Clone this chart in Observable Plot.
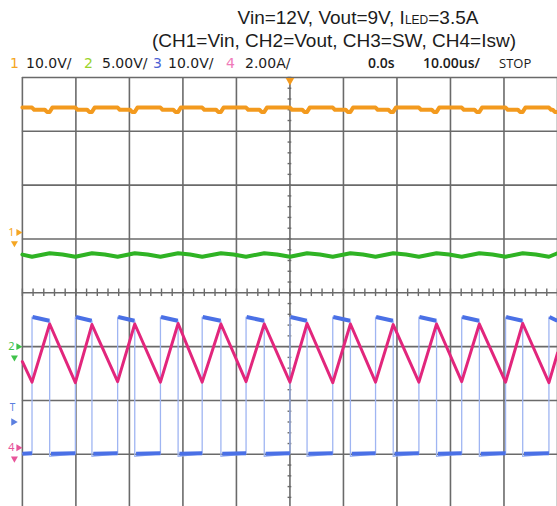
<!DOCTYPE html>
<html><head><meta charset="utf-8">
<script src="https://cdn.jsdelivr.net/npm/d3@7"></script>
<script src="https://cdn.jsdelivr.net/npm/@observablehq/plot@0.6"></script>
<style>
html,body{margin:0;padding:0;background:#fff;overflow:hidden;width:557px;height:506px;}
#wrap{position:relative;width:557px;height:506px;overflow:hidden;}
.t{position:absolute;white-space:nowrap;font-family:"Liberation Sans",Arial,sans-serif;color:#1c1c1c;line-height:1;}
.title{font-size:19px;left:0;text-align:center;}
.hd{font-size:14px;top:56px;font-family:"DejaVu Sans",sans-serif;}
.hd2{font-size:14px;top:56px;font-family:"Open Sans",sans-serif;font-weight:600;}
#chart{position:absolute;left:0;top:70px;}
</style></head>
<body><div id="wrap">
<div class="t title" style="top:8px;width:716px">Vin=12V, Vout=9V, I<span style="font-size:12px">LED</span>=3.5A</div>
<div class="t title" style="top:31px;width:668px">(CH1=Vin, CH2=Vout, CH3=SW, CH4=Isw)</div>
<div id="hdr"></div>
<div id="chart"></div>
</div>
<script>
// ---- header labels ----
const chLabels = ["1", "2", "3", "4"];
const chScales = ["10.0V/", "5.00V/", "10.0V/", "2.00A/"];
const chColors = ["#f5a623", "#9ad32a", "#4b62d6", "#f07ab8"];
const timeLabels = ["0.0s", "10.00us/", "STOP"];

// ---- grid (scope divisions) ----
const timeTicks = [-50, -40, -30, -20, -10, 0, 10, 20, 30, 40, 50];   // us, 10 us/div
const divTicks = [-4, -3, -2, -1, 0, 1, 2, 3, 4];                       // vertical divisions

// ---- waveforms (time in us, level in screen divisions) ----
const swRise = [-48.2, -40.1, -32.2, -24.2, -16.4, -8.2, 0.0, 8.0, 16.0, 24.1, 32.1, 40.3, 48.4];
const swFall = [-44.9, -37.0, -29.0, -20.9, -12.9, -4.8, 3.2, 11.3, 19.3, 27.4, 35.4, 43.5];
const iValley = [-1.66, -1.67, -1.65, -1.66, -1.66, -1.65, -1.66, -1.67, -1.66, -1.66, -1.65, -1.66, -1.67];
const iPeak = [-0.58, -0.59, -0.58, -0.57, -0.58, -0.58, -0.57, -0.58, -0.59, -0.58, -0.58, -0.57];
const iEdge = [-1.28, -1.12];      // inductor current at left / right screen edge
const swHigh = [-0.45, -0.52];     // start / end of SW high level
const swLow = -2.99;
const vinLevels = [3.44, 3.40, 3.36];   // Vin: idle, dip, end-of-on dip
const voutLevels = [0.67, 0.735, 0.71]; // Vout: at SW rise, at SW fall, mid-off

// header
const hdr = document.getElementById("hdr");
const chPos = [[10, 26], [84, 102], [153, 168], [226, 245]];
chLabels.forEach((c, i) => {
  hdr.insertAdjacentHTML("beforeend",
    `<div class="t hd" style="left:${chPos[i][0]}px;color:${chColors[i]}">${c}</div>` +
    `<div class="t hd" style="left:${chPos[i][1]}px">${chScales[i]}</div>`);
});
const tPos = [368, 423, 499];
timeLabels.forEach((s, i) => {
  hdr.insertAdjacentHTML("beforeend",
    `<div class="t hd2" style="left:${tPos[i]}px;${i === 2 ? "font-size:13px;font-weight:500;top:57px" : ""}">${s}</div>`);
});

// build traces
const pink = [{t: -50, v: iEdge[0]}];
swRise.forEach((r, i) => {
  pink.push({t: r, v: iValley[i]});
  if (i < swFall.length) pink.push({t: swFall[i], v: iPeak[i]});
});
pink.push({t: 50, v: iEdge[1]});

const blueThin = [{t: -50, v: swLow}];
const blueHigh = [], blueLow = [];
swRise.forEach((r, i) => {
  blueThin.push({t: r, v: swLow}, {t: r, v: swHigh[0]});
  const f = i < swFall.length ? swFall[i] : 50;
  blueThin.push({t: f, v: swHigh[1]});
  if (i < swFall.length) blueThin.push({t: f, v: swLow - 0.05});
  blueHigh.push({x1: r + 0.1, x2: f - 0.05, y1: swHigh[0], y2: swHigh[1]});
  const prevF = i === 0 ? -50 : swFall[i - 1] + 0.25;
  blueLow.push({x1: prevF, x2: r, y1: swLow, y2: swLow + 0.01});
});

const orange = [{t: -50, v: vinLevels[0]}];
swRise.forEach((r, i) => {
  const f = i < swFall.length ? swFall[i] : 50;
  orange.push({t: r, v: vinLevels[0]}, {t: r + 0.4, v: vinLevels[1]},
              {t: f - 0.9, v: vinLevels[1]}, {t: f - 0.5, v: vinLevels[2]});
  if (i < swFall.length) orange.push({t: f, v: vinLevels[2]}, {t: f + 0.5, v: vinLevels[0]});
  else orange.push({t: 50, v: vinLevels[2]});
});

const green = [{t: -50, v: voutLevels[2]}];
swRise.forEach((r, i) => {
  green.push({t: r, v: voutLevels[0]});
  if (i < swFall.length) {
    green.push({t: swFall[i], v: voutLevels[1]});
    const nr = i + 1 < swRise.length ? swRise[i + 1] : 50;
    green.push({t: (swFall[i] + nr) / 2, v: voutLevels[2]});
  }
});
green.push({t: 50, v: voutLevels[1]});

const minorX = d3.range(-50, 50.01, 2);
const minorY = d3.range(-4, 4.01, 0.2);

const gridColor = "#6a6a6a";
const chart = Plot.plot({
  width: 560, height: 445,
  marginLeft: 22, marginRight: 0, marginTop: 7, marginBottom: 5,
  x: {domain: [-50, 50], axis: null},
  y: {domain: [-4, 4], axis: null},
  marks: [
    Plot.ruleX(timeTicks, {stroke: gridColor, strokeWidth: 1.6}),
    Plot.ruleY(divTicks, {stroke: gridColor, strokeWidth: 1.6}),
    Plot.ruleX(minorX, {y1: -0.07, y2: 0.07, stroke: gridColor, strokeWidth: 1.4}),
    Plot.ruleY(minorY, {x1: -0.35, x2: 0.35, stroke: gridColor, strokeWidth: 1.4}),
    Plot.line(orange, {x: "t", y: "v", stroke: "#f39a1e", strokeWidth: 4}),
    Plot.line(green, {x: "t", y: "v", stroke: "#2fb324", strokeWidth: 4}),
    Plot.line(blueThin, {x: "t", y: "v", stroke: "#9fb5f2", strokeWidth: 1.3}),
    Plot.link(blueHigh, {x1: "x1", x2: "x2", y1: "y1", y2: "y2", stroke: "#4a70e6", strokeWidth: 4}),
    Plot.link(blueLow, {x1: "x1", x2: "x2", y1: "y1", y2: "y2", stroke: "#4a70e6", strokeWidth: 4}),
    Plot.line(pink, {x: "t", y: "v", stroke: "#e2267c", strokeWidth: 3}),
    // trigger position marker at top
    Plot.dot([0], {x: d => d, y: 4, symbol: "triangle", r: 3.2, fill: "#f39a1e", rotate: 180, dy: 3}),
    // channel markers on the left
    Plot.text(["1"], {x: -50, y: 1.12, dx: -11, text: d => d, fill: "#f5a623", fontSize: 11}),
    Plot.dot([1], {x: -50, y: 1.12, symbol: "triangle", r: 2.6, fill: "#f5a623", rotate: 90, dx: -4}),
    Plot.dot([1], {x: -50, y: 0.92, symbol: "triangle", r: 2.6, fill: "#f5a623", rotate: 180, dx: -8}),
    Plot.text(["2"], {x: -50, y: -1.0, dx: -11, text: d => d, fill: "#3fc24a", fontSize: 11}),
    Plot.dot([1], {x: -50, y: -1.0, symbol: "triangle", r: 2.6, fill: "#3fc24a", rotate: 90, dx: -4}),
    Plot.dot([1], {x: -50, y: -1.2, symbol: "triangle", r: 2.6, fill: "#3fc24a", rotate: 180, dx: -8}),
    Plot.text(["T"], {x: -50, y: -2.13, dx: -10, text: d => d, fill: "#5b7fe0", fontSize: 10}),
    Plot.dot([1], {x: -50, y: -2.4, symbol: "triangle", r: 2.8, fill: "#5b7fe0", rotate: 90, dx: -9}),
    Plot.text(["4"], {x: -50, y: -2.88, dx: -11, text: d => d, fill: "#e8559a", fontSize: 11}),
    Plot.dot([1], {x: -50, y: -2.88, symbol: "triangle", r: 2.6, fill: "#e8559a", rotate: 90, dx: -4}),
    Plot.dot([1], {x: -50, y: -3.08, symbol: "triangle", r: 2.6, fill: "#e8559a", rotate: 180, dx: -8})
  ]
});
document.getElementById("chart").append(chart);
</script>
</body></html>
